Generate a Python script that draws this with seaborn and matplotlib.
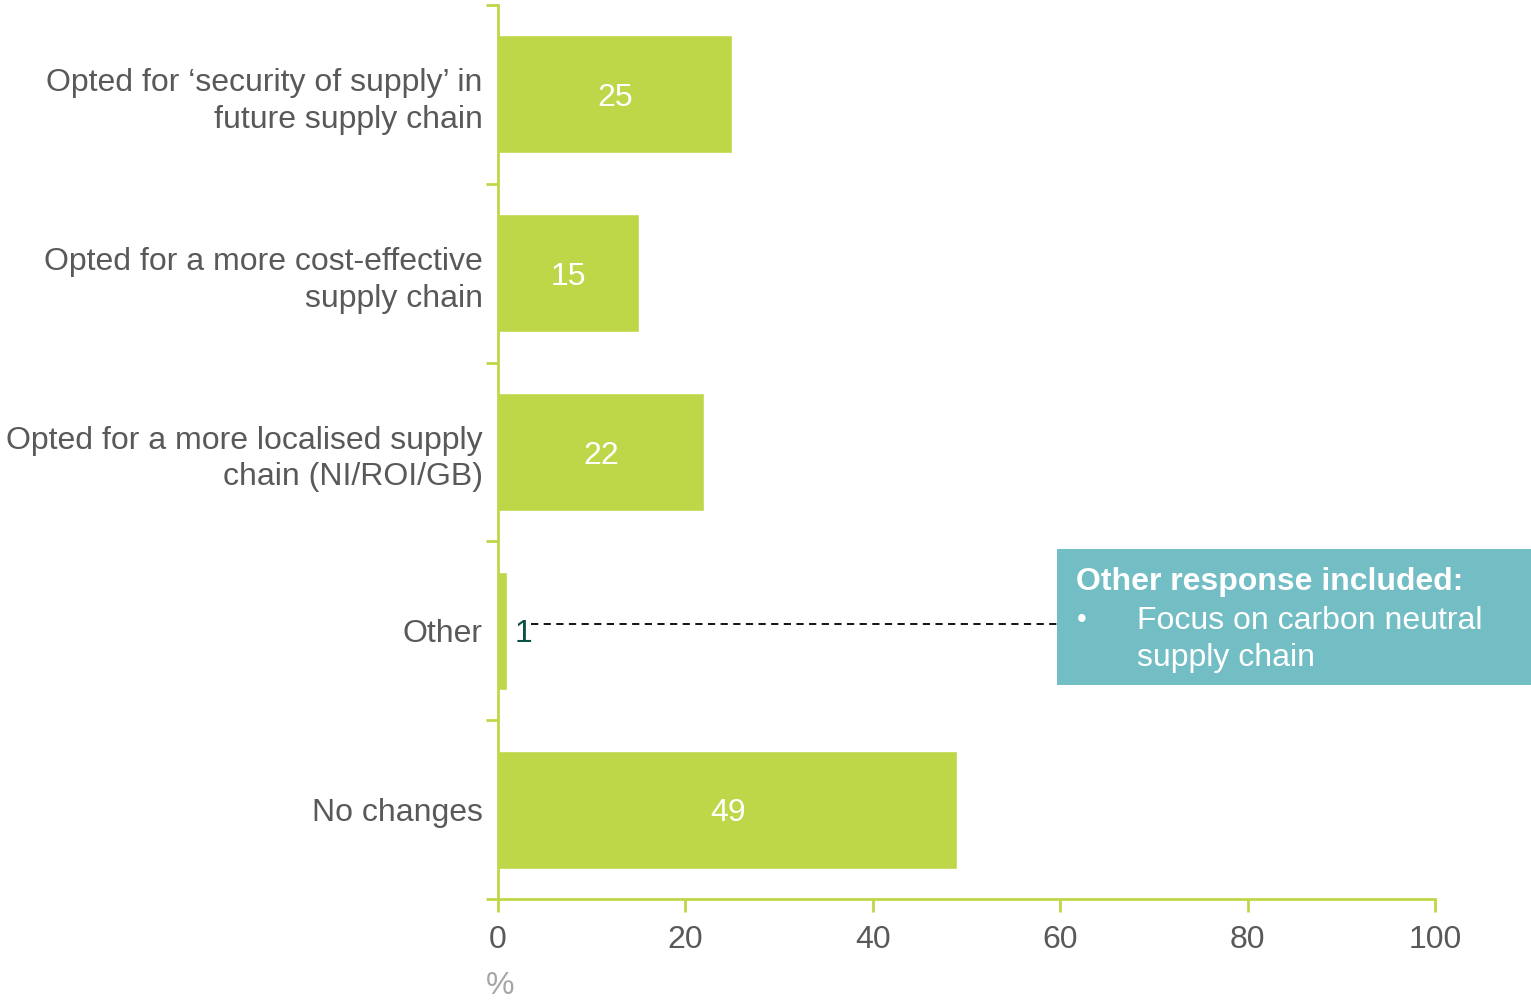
import matplotlib
matplotlib.use("Agg")
import matplotlib.pyplot as plt
import seaborn as sns
import pandas as pd
from matplotlib.patches import Rectangle

# data
categories = [
    "Opted for \u2018security of supply\u2019 in\nfuture supply chain",
    "Opted for a more cost-effective\nsupply chain",
    "Opted for a more localised supply\nchain (NI/ROI/GB)",
    "Other",
    "No changes",
]
values = [25, 15, 22, 1, 49]
x_ticks = [0, 20, 40, 60, 80, 100]
note_title = "Other response included:"
note_items = ["Focus on carbon neutral\nsupply chain"]

green = "#BDD748"
grey = "#595959"
teal = "#72BEC4"
fs = 23

sns.set_theme(style="white")
plt.rcParams['font.family'] = ['Liberation Sans', 'DejaVu Sans']

df = pd.DataFrame({"cat": categories, "val": values})

fig = plt.figure(figsize=(15.31, 10.02), dpi=100)
ax = fig.add_axes([0.3253, 0.1028, 0.6120, 0.8922])

sns.barplot(data=df, y="cat", x="val", orient="h", color=green, width=0.66,
            saturation=1, ax=ax)

ax.set_xlim(0, 100)
ax.set_ylim(len(categories) - 0.5, -0.5)
ax.set_xticks(x_ticks)
ax.set_xticklabels([str(t) for t in x_ticks])
ax.set_yticks(range(len(categories)))
ax.set_yticklabels(categories, ha="right", linespacing=1.3)
ax.set_yticks([i - 0.5 for i in range(len(categories) + 1)], minor=True)

ax.tick_params(axis="x", which="major", direction="out", length=9, width=2,
               color=green, labelsize=fs, labelcolor=grey, pad=10, bottom=True)
ax.tick_params(axis="y", which="major", length=0, labelsize=fs,
               labelcolor=grey, pad=11)
ax.tick_params(axis="y", which="minor", direction="out", length=9, width=2,
               color=green, left=True)

for s in ["top", "right"]:
    ax.spines[s].set_visible(False)
for s in ["left", "bottom"]:
    ax.spines[s].set_color(green)
    ax.spines[s].set_linewidth(2)

ax.set_ylabel("")
ax.set_xlabel("%", color="#A6A6A6", fontsize=fs)
ax.xaxis.set_label_coords(0.002, -0.081)

# value labels
for i, v in enumerate(values):
    if v >= 5:
        ax.text(v / 2, i, str(v), ha="center", va="center_baseline",
                color="white", fontsize=fs)
    else:
        ax.text(v + 0.8, i, str(v), ha="left", va="center_baseline",
                color="#0D5045", fontsize=fs)
        ax.plot([v + 2.5, 59.7], [i - 0.04, i - 0.04], color="black",
                linestyle=(0, (4, 3)), linewidth=1.3, clip_on=False)

# note box
fig.patches.append(Rectangle((0.6904, 0.3164), 0.3096, 0.1357,
                             transform=fig.transFigure, facecolor=teal,
                             edgecolor="none", zorder=5))
fig.text(0.7027, 0.4191, note_title, color="white", fontsize=fs,
         fontweight="bold", va="center", ha="left", zorder=6)
fig.text(0.7033, 0.3812, "\u2022", color="white", fontsize=20,
         va="center", ha="left", zorder=6)
fig.text(0.7427, 0.3618, note_items[0], color="white", fontsize=fs,
         va="center", ha="left", linespacing=1.3, zorder=6)

fig.savefig("out.png", dpi=100)
